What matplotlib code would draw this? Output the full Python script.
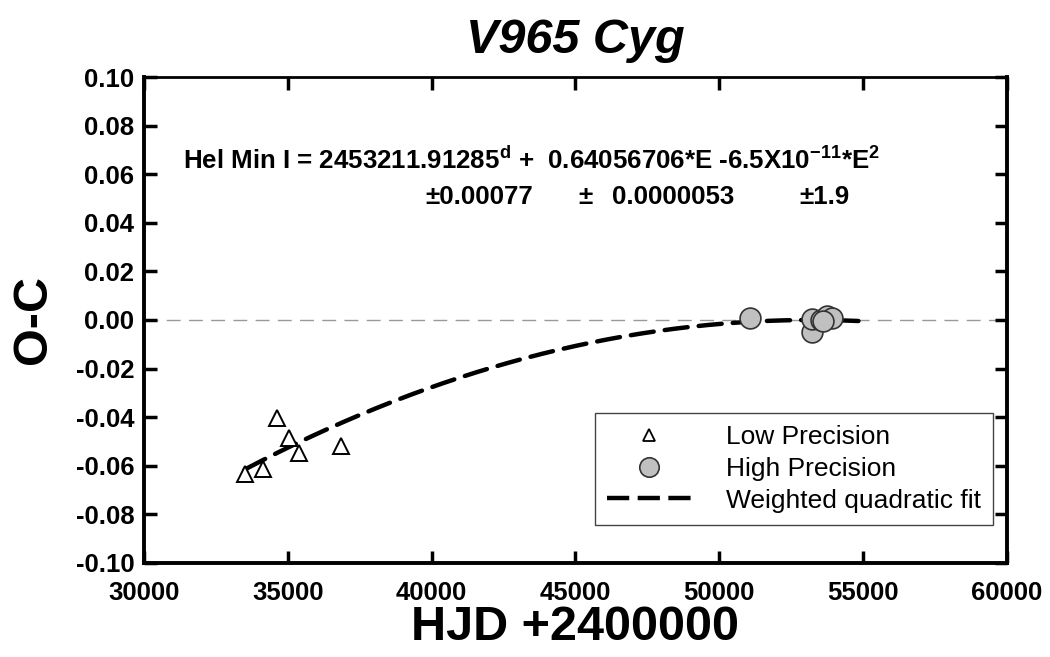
import numpy as np
import matplotlib
matplotlib.use("Agg")
import matplotlib.pyplot as plt
from matplotlib.lines import Line2D

plt.rcParams['font.family'] = ['Liberation Sans', 'DejaVu Sans']
plt.rcParams['mathtext.fontset'] = 'custom'
plt.rcParams['mathtext.rm'] = 'Liberation Sans:bold'
plt.rcParams['mathtext.bf'] = 'Liberation Sans:bold'

# low precision minima (HJD-2400000, O-C)
low_hjd = [33510, 34140, 34620, 35040, 35390, 36840]
low_oc = [-0.0635, -0.0613, -0.0403, -0.0485, -0.0548, -0.0520]

# high precision minima
high_hjd = [51060, 53220, 53220, 53530, 53740, 53910, 53600]
high_oc = [0.0008, -0.0050, 0.0004, 0.0000, 0.0016, 0.0010, -0.0003]

# quadratic ephemeris shown on the chart
t0 = 53211.91285
period = 0.64056706
quad = -6.5e-11
fit_start, fit_end = 33500, 55000

# error line pieces (text, HJD position)
err_parts = [('±0.00077', 39770), ('±', 45090), ('0.0000053', 46270), ('±1.9', 52800)]

fig = plt.figure(figsize=(10.5, 6.57), dpi=100)
ax = fig.add_axes([0.1371, 0.1431, 0.8219, 0.7397])

ax.axhline(0, color='#999999', lw=1.0, ls=(0, (10, 6)), zorder=1)

hjd = np.linspace(fit_start, fit_end, 300)
ep = (hjd - t0) / period
ax.plot(hjd, quad * ep**2, color='black', lw=3.2, ls=(0, (5.2, 2.5)),
        dash_capstyle='round', zorder=3)

ax.plot(low_hjd, low_oc, ls='none', marker='^', ms=11, mfc='white',
        mec='black', mew=1.4, zorder=4)
ax.plot(high_hjd, high_oc, ls='none', marker='o', ms=15, mfc='#c0c0c0',
        mec='#333333', mew=1.2, zorder=4)

ax.set_xlim(30000, 60000)
ax.set_ylim(-0.10, 0.10)
ax.set_xticks(np.arange(30000, 60001, 5000))
ax.set_yticks(np.round(np.arange(-0.10, 0.1001, 0.02), 2))
ax.set_yticklabels([f'{v:.2f}' for v in ax.get_yticks()])

ax.tick_params(direction='in', top=True, right=True, length=9, width=2.5)
ax.tick_params(axis='x', pad=13, labelsize=18.5)
ax.tick_params(axis='y', pad=7, labelsize=18.5)
for lab in ax.get_xticklabels() + ax.get_yticklabels():
    lab.set_fontweight('bold')
for s in ['left', 'bottom', 'right']:
    ax.spines[s].set_linewidth(2.8)
ax.spines['top'].set_linewidth(2.0)

ax.set_xlabel('HJD +2400000', fontsize=35, fontweight='bold', labelpad=0)
ax.set_ylabel('O-C', fontsize=35, fontweight='bold', labelpad=14)
ax.set_title('V965 Cyg', fontsize=35, fontweight='bold', style='italic', pad=17)

ax.text(31360, 0.0658,
        r'Hel Min I = 2453211.91285$^{\mathrm{d}}$ +  0.64056706*E -6.5X10$^{\mathrm{-11}}$*E$^{\mathrm{2}}$',
        fontsize=18.6, fontweight='bold', va='center', ha='left')
for txt, xpos in err_parts:
    ax.text(xpos, 0.0506, txt, fontsize=18.6, fontweight='bold', va='center', ha='left')

handles = [
    Line2D([], [], ls='none', marker='^', ms=8, mfc='white', mec='black', mew=1.3),
    Line2D([], [], ls='none', marker='o', ms=14, mfc='#c0c0c0', mec='#333333', mew=1.2),
    Line2D([], [], color='black', lw=3.2, ls=(0, (5, 1.9))),
]
leg = ax.legend(handles, ['Low Precision', 'High Precision', 'Weighted quadratic fit'],
                loc='upper left', bbox_to_anchor=(595 / 1050, 1 - 413 / 657),
                bbox_transform=fig.transFigure, borderaxespad=0, fontsize=19,
                fancybox=False, framealpha=1, edgecolor='#444444',
                handlelength=3.2, handletextpad=1.3, labelspacing=0.3,
                borderpad=0.45)
leg.get_frame().set_linewidth(1.0)

fig.savefig('out.png', dpi=100)
